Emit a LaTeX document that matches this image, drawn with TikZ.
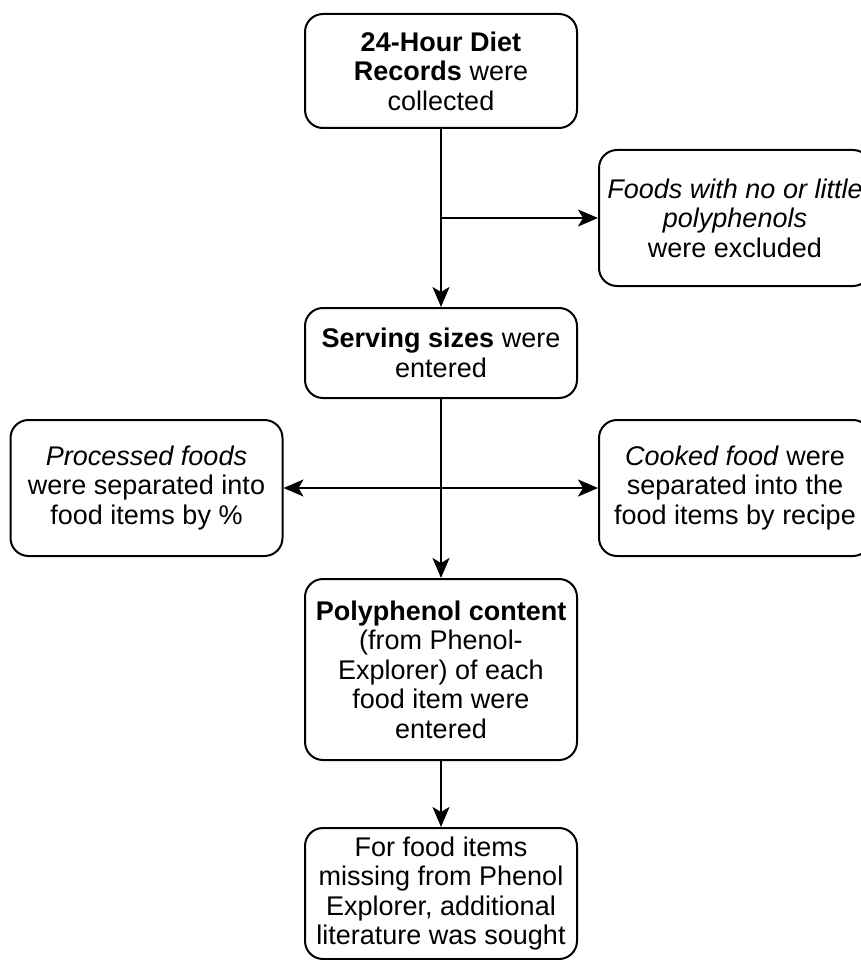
\documentclass[tikz,border=0pt]{standalone}
\usepackage{fontspec}
\setmainfont{Liberation Sans}
\usetikzlibrary{arrows.meta}
\begin{document}
\begin{tikzpicture}[x=1pt,y=-1pt,
  box/.style={draw, line width=2pt, rounded corners=18pt, align=center,
    minimum width=272pt, inner sep=0pt, font=\fontsize{27pt}{29.5pt}\selectfont},
  conn/.style={line width=2pt, -{Stealth[length=20pt,width=17pt,inset=5pt]}}]
\clip (0,0) rectangle (861,960);
\fill[white] (0,0) rectangle (861,960);
\node[box, minimum height=114pt] (b1) at (441,71) {\textbf{24-Hour Diet}\\\textbf{Records} were\\collected};
\node[box, minimum height=136pt] (r1) at (735,218) {\textit{Foods with no or little}\\\textit{polyphenols}\\were excluded};
\node[box, minimum height=90pt] (b2) at (441,353) {\textbf{Serving sizes} were\\entered};
\node[box, minimum height=136pt] (l1) at (146.5,488) {\textit{Processed foods}\\were separated into\\food items by \%};
\node[box, minimum height=136pt] (r2) at (735,488) {\textit{Cooked food} were\\separated into the\\food items by recipe};
\node[box, minimum height=181pt] (b3) at (441,669.5) {\textbf{Polyphenol content}\\(from Phenol-\\Explorer) of each\\food item were\\entered};
\node[box, minimum height=131pt] (b4) at (441,893.5) {For food items\\missing from Phenol\\Explorer, additional\\literature was sought};
\coordinate (j1) at (441,218);
\coordinate (j2) at (441,488);
\draw[conn] (b1.south) -- (b2.north);
\draw[conn] (j1) -- (r1.west);
\draw[conn] (b2.south) -- (b3.north);
\draw[conn] (j2) -- (l1.east);
\draw[conn] (j2) -- (r2.west);
\draw[conn] (b3.south) -- (b4.north);
\end{tikzpicture}
\end{document}
